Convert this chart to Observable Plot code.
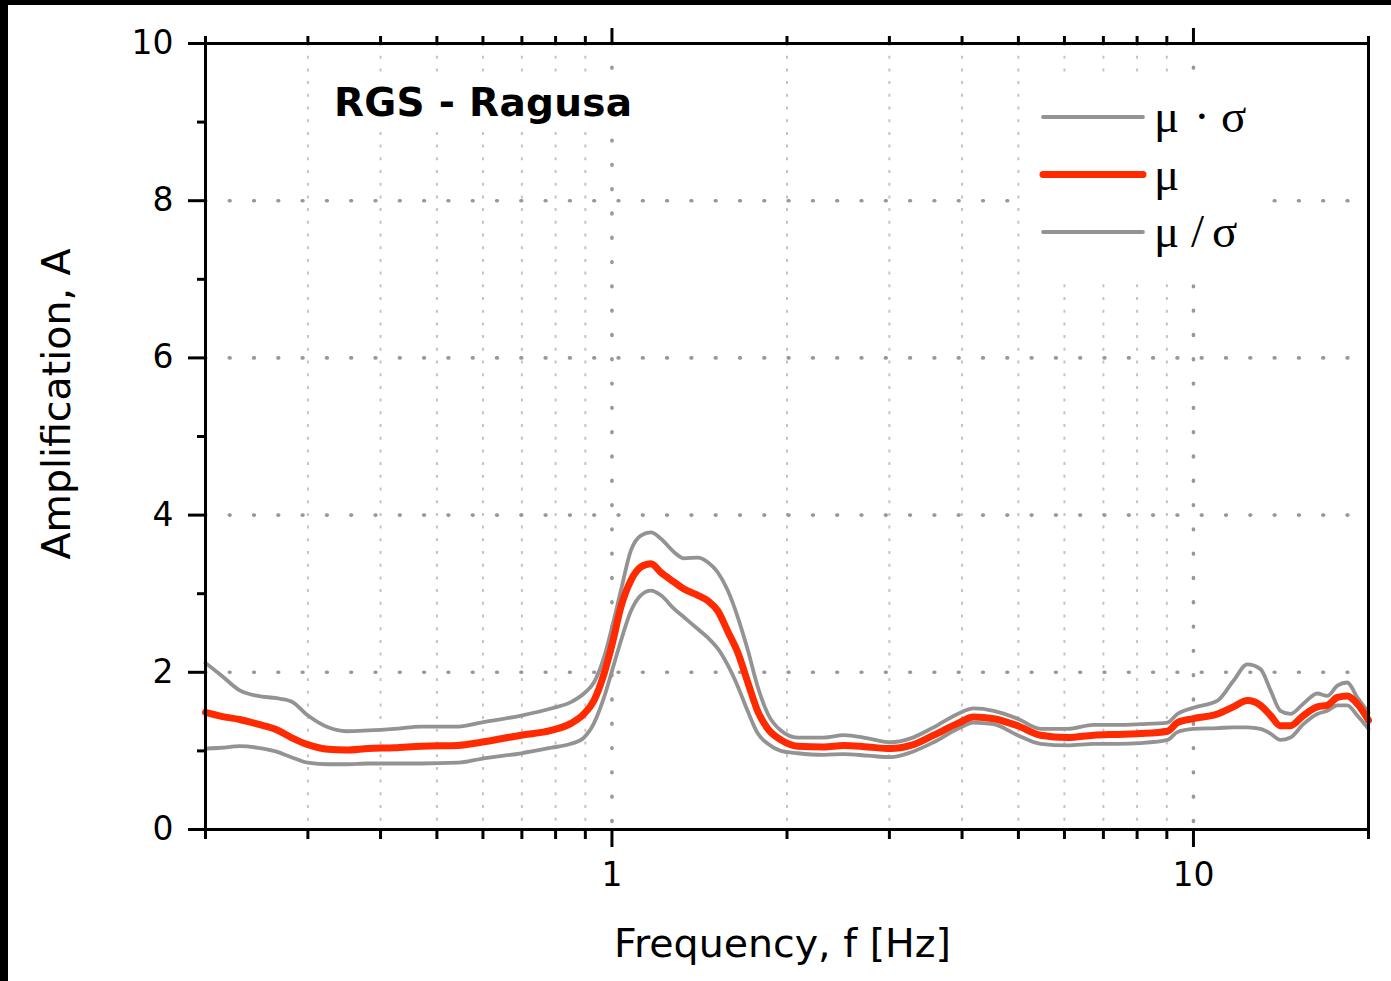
<!DOCTYPE html>
<html><head><meta charset="utf-8">
<script src="https://cdn.jsdelivr.net/npm/d3@7"></script>
<script src="https://cdn.jsdelivr.net/npm/@observablehq/plot@0.6"></script>
<style>
html,body{margin:0;padding:0;background:#000;width:1391px;height:981px;overflow:hidden;}
#wrap{position:absolute;left:8px;top:5px;width:1383px;height:976px;background:#fff;}
svg{display:block}
</style></head><body><div id="wrap"></div>
<script>
// ---- data ----
const freq = [0.2,0.213,0.229,0.246,0.265,0.281,0.300,0.325,0.349,0.381,
  0.422,0.470,0.544,0.596,0.698,0.786,0.850,0.895,0.931,0.969,
  1.004,1.036,1.078,1.121,1.167,1.214,1.278,1.330,1.405,1.462,
  1.521,1.582,1.646,1.713,1.782,1.854,1.952,2.087,2.313,2.504,
  2.754,3.016,3.264,3.575,3.932,4.188,4.532,4.985,5.459,6.074,
  6.734,7.404,8.108,9.024,9.386,10.0,11.0,11.71,12.38,13.04,
  13.57,14.11,14.68,15.45,16.33,16.99,17.68,18.39,19.13,20.0];
const ampMuTimesSigma = [2.12,1.96,1.77,1.70,1.67,1.63,1.45,1.30,1.25,1.26,
  1.28,1.31,1.31,1.36,1.45,1.54,1.62,1.73,1.87,2.19,
  2.62,3.04,3.55,3.74,3.78,3.70,3.53,3.45,3.46,3.40,
  3.27,3.04,2.70,2.28,1.81,1.47,1.26,1.17,1.17,1.20,
  1.16,1.11,1.16,1.30,1.47,1.54,1.51,1.41,1.28,1.28,
  1.33,1.33,1.34,1.36,1.47,1.55,1.64,1.89,2.10,2.04,
  1.77,1.51,1.47,1.60,1.73,1.70,1.83,1.87,1.68,1.49];
const ampMu = [1.49,1.44,1.40,1.34,1.27,1.17,1.08,1.02,1.01,1.03,
  1.04,1.06,1.07,1.11,1.20,1.26,1.35,1.47,1.64,1.98,
  2.40,2.83,3.17,3.34,3.38,3.27,3.15,3.06,2.98,2.91,
  2.78,2.52,2.25,1.87,1.50,1.28,1.14,1.06,1.05,1.07,
  1.05,1.03,1.07,1.20,1.35,1.43,1.41,1.32,1.20,1.17,
  1.20,1.21,1.22,1.25,1.36,1.41,1.47,1.56,1.64,1.58,
  1.45,1.32,1.32,1.45,1.56,1.58,1.68,1.70,1.60,1.39];
const ampMuOverSigma = [1.03,1.04,1.06,1.04,0.99,0.92,0.85,0.83,0.83,0.84,
  0.84,0.84,0.85,0.90,0.97,1.04,1.09,1.17,1.35,1.68,
  2.06,2.40,2.78,2.98,3.04,2.98,2.81,2.70,2.55,2.44,
  2.30,2.09,1.82,1.50,1.22,1.09,1.00,0.97,0.95,0.96,
  0.94,0.92,0.98,1.11,1.28,1.36,1.34,1.20,1.09,1.07,
  1.09,1.09,1.10,1.14,1.24,1.28,1.29,1.30,1.30,1.28,
  1.22,1.14,1.17,1.34,1.47,1.51,1.58,1.58,1.45,1.28];

const xMajorTicks = [1, 10];
const xMinorTicks = [0.2,0.3,0.4,0.5,0.6,0.7,0.8,0.9,2,3,4,5,6,7,8,9,20];
const xMinorGrid = [0.3,0.4,0.5,0.6,0.7,0.8,0.9,2,3,4,5,6,7,8,9];
const yMajorTicks = [0,2,4,6,8,10];
const yMinorTicks = [1,3,5,7,9];
const yGrid = [2,4,6,8];
const legendLabels = ["μ · σ", "μ", "μ / σ"];
const titleText = "RGS - Ragusa";
const xTitle = "Frequency, f [Hz]";
const yTitle = "Amplification, A";

const GRAY = "#939393", RED = "#ff2a00";
const rows = freq.map((f, i) => ({f, up: ampMuTimesSigma[i], mu: ampMu[i], lo: ampMuOverSigma[i]}));

const W = 1383, H = 976;
const blank = () => "";
const plot = Plot.plot({
  width: W, height: H,
  marginLeft: 197, marginRight: 23, marginTop: 38, marginBottom: 152,
  x: {type: "log", domain: [0.2, 20]},
  y: {domain: [0, 10]},
  style: {fontFamily: "DejaVu Sans", background: "transparent", overflow: "visible", color: "black"},
  marks: [
    Plot.ruleX(xMinorGrid, {stroke: "#c4c4c4", strokeWidth: 2, strokeDasharray: "3,9.7"}),
    Plot.ruleX(xMajorTicks, {stroke: "#989898", strokeWidth: 3.6, strokeDasharray: "0.8,23.5", strokeLinecap: "round"}),
    Plot.ruleY(yGrid, {stroke: "#989898", strokeWidth: 3.6, strokeDasharray: "0.8,23.5", strokeLinecap: "round"}),
    Plot.line(rows, {x: "f", y: "up", stroke: GRAY, strokeWidth: 3.8, curve: "monotone-x"}),
    Plot.line(rows, {x: "f", y: "lo", stroke: GRAY, strokeWidth: 3.8, curve: "monotone-x"}),
    Plot.line(rows, {x: "f", y: "mu", stroke: RED, strokeWidth: 7, curve: "monotone-x"}),
    Plot.axisX(xMajorTicks, {anchor: "bottom", tickSize: 18, tickPadding: 15, strokeWidth: 3, fontSize: 33, tickFormat: d => String(d), label: null}),
    Plot.axisX(xMinorTicks, {anchor: "bottom", tickSize: 10, strokeWidth: 3, tickFormat: blank, label: null}),
    Plot.axisX(xMajorTicks, {anchor: "top", tickSize: 16, strokeWidth: 3, tickFormat: blank, label: null}),
    Plot.axisX(xMinorTicks, {anchor: "top", tickSize: 8, strokeWidth: 3, tickFormat: blank, label: null}),
    Plot.axisY(yMajorTicks, {anchor: "left", tickSize: 17, tickPadding: 15, strokeWidth: 3, fontSize: 33, tickFormat: d => String(d), label: null}),
    Plot.axisY(yMinorTicks, {anchor: "left", tickSize: 8, strokeWidth: 3, tickFormat: blank, label: null}),
    Plot.frame({stroke: "black", strokeWidth: 3})
  ]
});
document.getElementById("wrap").appendChild(plot);

const svg = d3.select(plot);
// title with white background box
svg.append("rect").attr("x", 318).attr("y", 71).attr("width", 316).attr("height", 54).attr("fill", "#fff");
svg.append("text").attr("x", 326).attr("y", 111).attr("text-anchor", "start")
  .attr("font-family", "DejaVu Sans").attr("font-weight", "bold").attr("font-size", 39)
  .attr("textLength", 298).attr("lengthAdjust", "spacing").attr("fill", "#000").text(titleText);

// axis titles
svg.append("text").attr("x", 774.5).attr("y", 952).attr("text-anchor", "middle")
  .attr("font-family", "DejaVu Sans").attr("font-size", 39.5).attr("fill", "#000").text(xTitle);
svg.append("text").attr("transform", "translate(62,399) rotate(-90)").attr("text-anchor", "middle")
  .attr("font-family", "DejaVu Sans").attr("font-size", 39.5).attr("fill", "#000").text(yTitle);

// legend
const lg = svg.append("g").attr("text-anchor", "start");
lg.append("rect").attr("x", 1012).attr("y", 69).attr("width", 246).attr("height", 208).attr("fill", "#fff");
const legendColors = [GRAY, RED, GRAY];
const legendWidths = [3.8, 7, 3.8];
const dotOffsets = [0, 40, 67];
const slashOffsets = [0, 37, 58];
legendLabels.forEach((lab, i) => {
  const ly = 112 + i * 57.5;
  lg.append("line").attr("x1", 1035).attr("x2", 1135).attr("y1", ly).attr("y2", ly)
    .attr("stroke", legendColors[i]).attr("stroke-width", legendWidths[i]).attr("stroke-linecap", "round");
  const parts = lab.split(" ");
  const offs = parts.length === 3 ? (parts[1] === "/" ? slashOffsets : dotOffsets) : [0];
  const t = lg.append("text").attr("y", ly + 15).attr("font-family", "Liberation Serif").attr("font-size", 47).attr("fill", "#000");
  parts.forEach((p, j) => t.append("tspan").attr("x", 1146 + offs[j]).text(p));
});
</script>
</body></html>
